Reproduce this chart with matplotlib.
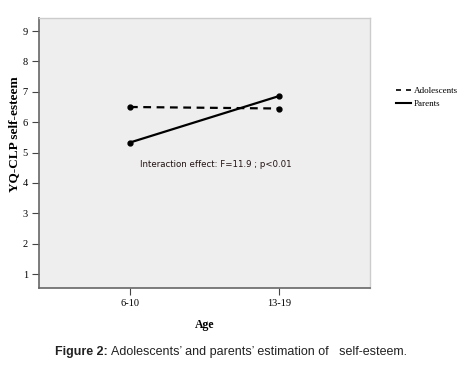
import matplotlib
matplotlib.use("Agg")
import matplotlib.pyplot as plt
from matplotlib.lines import Line2D

age_groups = ["6-10", "13-19"]
adolescents = [6.50, 6.45]
parents = [5.33, 6.86]
y_ticks = [1, 2, 3, 4, 5, 6, 7, 8, 9]

fig = plt.figure(figsize=(4.65, 3.65), dpi=100)
ax = fig.add_axes([39/465, 1-288/365, (370-39)/465, (288-18)/365])
ax.set_facecolor("#eeeeee")

x = list(range(len(age_groups)))
ax.plot(x, adolescents, color="black", lw=1.6, ls=(0, (3.5, 2.5)), marker="o", ms=3.5)
ax.plot(x, parents, color="black", lw=1.6, ls="-", marker="o", ms=3.5)

ax.set_xlim(-0.61, 1.61)
ax.set_ylim(0.54, 9.43)
ax.set_xticks(x)
ax.set_xticklabels(age_groups, fontfamily="Liberation Serif", fontsize=7.5)
ax.set_yticks(y_ticks)
ax.set_yticklabels([str(v) for v in y_ticks], fontfamily="Liberation Serif", fontsize=7.5)
ax.tick_params(axis="both", length=5, width=0.8, color="#444444", pad=3)

for s in ["left", "bottom"]:
    ax.spines[s].set_color("#666666")
    ax.spines[s].set_linewidth(1.2)
for s in ["top", "right"]:
    ax.spines[s].set_color("#cccccc")
    ax.spines[s].set_linewidth(1.0)

ax.set_xlabel("Age", fontfamily="Liberation Serif", fontweight="bold", fontsize=8.5, labelpad=8)
fig.text(14/465, 1-134/365, "YQ-CLP self-esteem", rotation=90, ha="center", va="center",
         fontfamily="Liberation Serif", fontweight="bold", fontsize=9.5)

ax.text(0.07, 4.6, "Interaction effect: F=11.9 ; p<0.01", fontfamily="DejaVu Sans",
        fontsize=6.2, color="#221111", va="center", ha="left")

handles = [Line2D([], [], color="black", lw=1.2, ls=(0, (3, 3))),
           Line2D([], [], color="black", lw=1.5, ls="-")]
fig.legend(handles, ["Adolescents", "Parents"], loc="upper left",
           bbox_to_anchor=(388/465, 1-79/365), frameon=False,
           prop={"family": "Liberation Serif", "size": 6.5},
           handlelength=1.6, handletextpad=0.4, labelspacing=0.5)

fig.text(108/465, 1-352/365, "Figure 2:", ha="right", va="center",
         fontfamily="Liberation Sans", fontweight="bold", fontsize=9, color="#222222")
fig.text(111/465, 1-352/365, "Adolescents\u2019 and parents\u2019 estimation of   self-esteem.",
         ha="left", va="center", fontfamily="Liberation Sans", fontsize=9, color="#222222")

fig.savefig("out.png", dpi=100)
